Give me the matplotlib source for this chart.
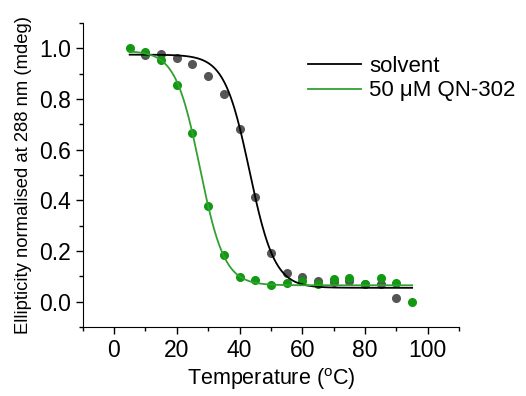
import numpy as np
import matplotlib
matplotlib.use('Agg')
import matplotlib.pyplot as plt
from matplotlib.ticker import MultipleLocator

plt.rcParams['font.family'] = ['Liberation Sans', 'DejaVu Sans']

temp_solvent = [10, 15, 20, 25, 30, 35, 40, 45, 50, 55, 60, 65, 70, 75, 80, 85, 90]
ell_solvent = [0.975, 0.976, 0.962, 0.937, 0.889, 0.818, 0.681, 0.415, 0.194, 0.113,
               0.099, 0.080, 0.078, 0.080, 0.070, 0.070, 0.013]

temp_qn = [5, 10, 15, 20, 25, 30, 35, 40, 45, 50, 55, 60, 65, 70, 75, 80, 85, 90, 95]
ell_qn = [1.0, 0.984, 0.955, 0.854, 0.665, 0.379, 0.185, 0.096, 0.086, 0.067, 0.074,
          0.083, 0.070, 0.090, 0.092, 0.072, 0.092, 0.074, 0.0]

# Boltzmann fit parameters (top, bottom, Tm, slope) as drawn in the figure
fit_solvent = (0.975, 0.055, 43.2, 4.0)
fit_qn = (0.99, 0.065, 27.4, 3.9)


def boltzmann(t, top, bottom, tm, dx):
    return bottom + (top - bottom) / (1 + np.exp((t - tm) / dx))


t = np.linspace(5, 95, 300)

fig = plt.figure(figsize=(5.26, 3.96), dpi=100)
ax = fig.add_axes([0.157, 0.174, 0.716, 0.768])

ax.plot(temp_solvent, ell_solvent, 'o', color='#555555', markersize=5.5, zorder=2)
ax.plot(temp_qn, ell_qn, 'o', color='#119911', markersize=5.5, zorder=3)
ax.plot(t, boltzmann(t, *fit_solvent), color='black', lw=1.3, label='solvent', zorder=4)
ax.plot(t, boltzmann(t, *fit_qn), color='#33a033', lw=1.3, label='50 \u03bcM QN-302', zorder=4)

ax.set_xlim(-10, 110)
ax.set_ylim(-0.1, 1.1)
ax.xaxis.set_major_locator(MultipleLocator(20))
ax.xaxis.set_minor_locator(MultipleLocator(10))
ax.yaxis.set_major_locator(MultipleLocator(0.2))
ax.yaxis.set_minor_locator(MultipleLocator(0.1))
ax.yaxis.set_major_formatter(plt.FormatStrFormatter('%.1f'))

for s in ['top', 'right']:
    ax.spines[s].set_visible(False)
ax.tick_params(which='major', direction='out', length=5, width=1, labelsize=16.5)
ax.tick_params(which='minor', direction='out', length=3, width=1)

ax.set_xlabel('Temperature ($\\mathregular{^{o}}$C)', fontsize=15.5, labelpad=3)
ax.set_ylabel('Ellipticity normalised at 288 nm (mdeg)', fontsize=13.3, labelpad=5)

fig.legend(loc='upper left', bbox_to_anchor=(308 / 526, 1 - 56 / 396), frameon=False,
           fontsize=16, handlelength=2.4, handletextpad=0.35, labelspacing=0.15,
           borderpad=0, borderaxespad=0)

fig.savefig('out.png', dpi=100)
